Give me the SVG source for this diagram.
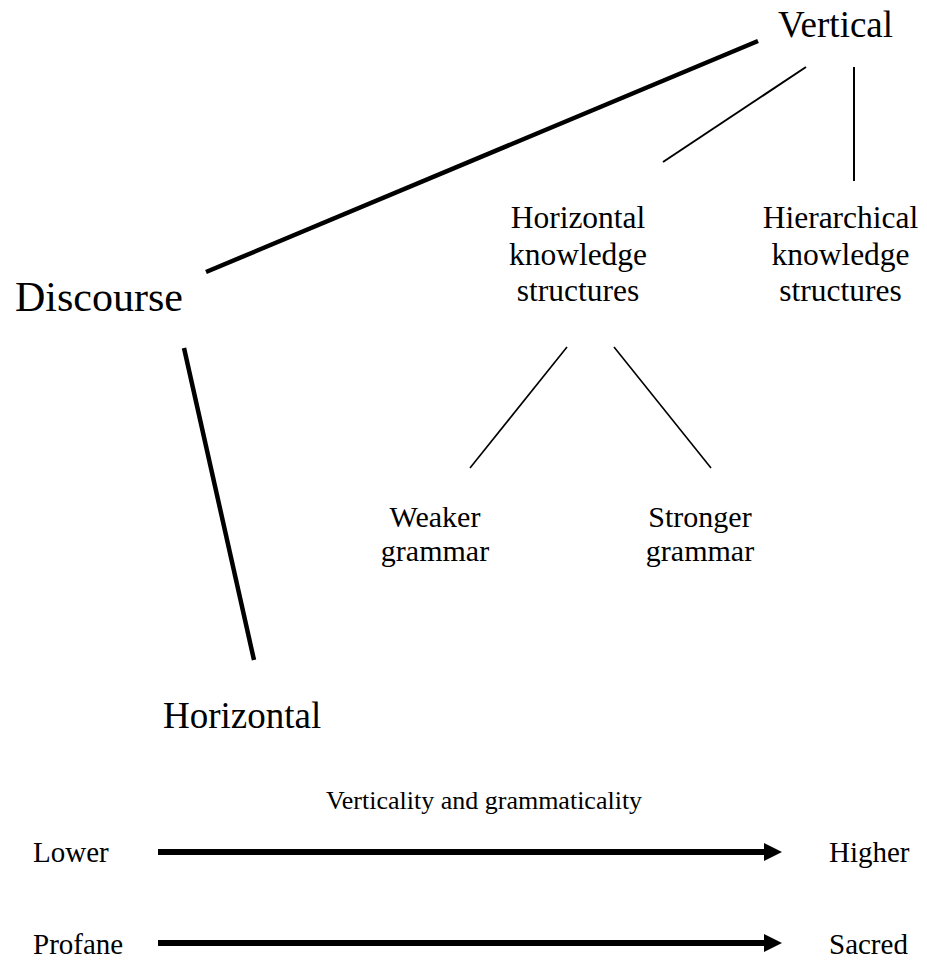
<svg xmlns="http://www.w3.org/2000/svg" width="927" height="965" viewBox="0 0 927 965">
  <defs>
    <style>
      text { font-family: "Liberation Serif", "Times New Roman", serif; fill: #000; }
      .big { font-size: 42px; }
      .main { font-size: 37px; }
      .mid { font-size: 31.5px; text-anchor: middle; }
      .small { font-size: 30px; text-anchor: middle; }
      .scale { font-size: 29px; }
      .caption { font-size: 26px; text-anchor: middle; }
      .thick { stroke: #000; stroke-width: 4.5; fill: none; }
      .thin { stroke: #000; stroke-width: 2; fill: none; }
      .fine { stroke: #000; stroke-width: 1.6; fill: none; }
      .axis { stroke: #000; stroke-width: 6; fill: none; }
    </style>
    <marker id="head" viewBox="0 0 18 18" refX="0" refY="9" markerWidth="18" markerHeight="18" markerUnits="userSpaceOnUse" orient="auto">
      <path d="M0,0 L18,9 L0,18 Z" fill="#000"/>
    </marker>
  </defs>

  <!-- tree nodes -->
  <g id="vertical"><text class="main" x="778" y="37">Vertical</text></g>
  <g id="discourse"><text class="big" x="15" y="311">Discourse</text></g>
  <g id="horizontal"><text class="main" x="163" y="728">Horizontal</text></g>
  <g id="horizontal-knowledge">
    <text class="mid" x="578" y="228">Horizontal</text>
    <text class="mid" x="578" y="264.5">knowledge</text>
    <text class="mid" x="578" y="301">structures</text>
  </g>
  <g id="hierarchical-knowledge">
    <text class="mid" x="840.5" y="228">Hierarchical</text>
    <text class="mid" x="840.5" y="264.5">knowledge</text>
    <text class="mid" x="840.5" y="301">structures</text>
  </g>
  <g id="weaker-grammar">
    <text class="small" x="435" y="527">Weaker</text>
    <text class="small" x="435" y="561">grammar</text>
  </g>
  <g id="stronger-grammar">
    <text class="small" x="700" y="527">Stronger</text>
    <text class="small" x="700" y="561">grammar</text>
  </g>

  <!-- tree branches -->
  <g id="connectors">
    <line class="thick" x1="206" y1="272" x2="758" y2="41"/>
    <line class="thick" x1="184" y1="348" x2="254" y2="660"/>
    <line class="thin" x1="806" y1="67" x2="663" y2="162"/>
    <line class="thin" x1="854" y1="67" x2="854" y2="181"/>
    <line class="fine" x1="567" y1="347" x2="470" y2="468"/>
    <line class="fine" x1="614" y1="347" x2="711" y2="468"/>
  </g>

  <!-- continua -->
  <g id="scale">
    <text class="caption" x="484" y="809">Verticality and grammaticality</text>
    <text class="scale" x="33" y="862">Lower</text>
    <text class="scale" x="829" y="862">Higher</text>
    <line class="axis" x1="158" y1="852" x2="764" y2="852" marker-end="url(#head)"/>
    <text class="scale" x="33" y="954">Profane</text>
    <text class="scale" x="829" y="954">Sacred</text>
    <line class="axis" x1="158" y1="943" x2="764" y2="943" marker-end="url(#head)"/>
  </g>
</svg>
